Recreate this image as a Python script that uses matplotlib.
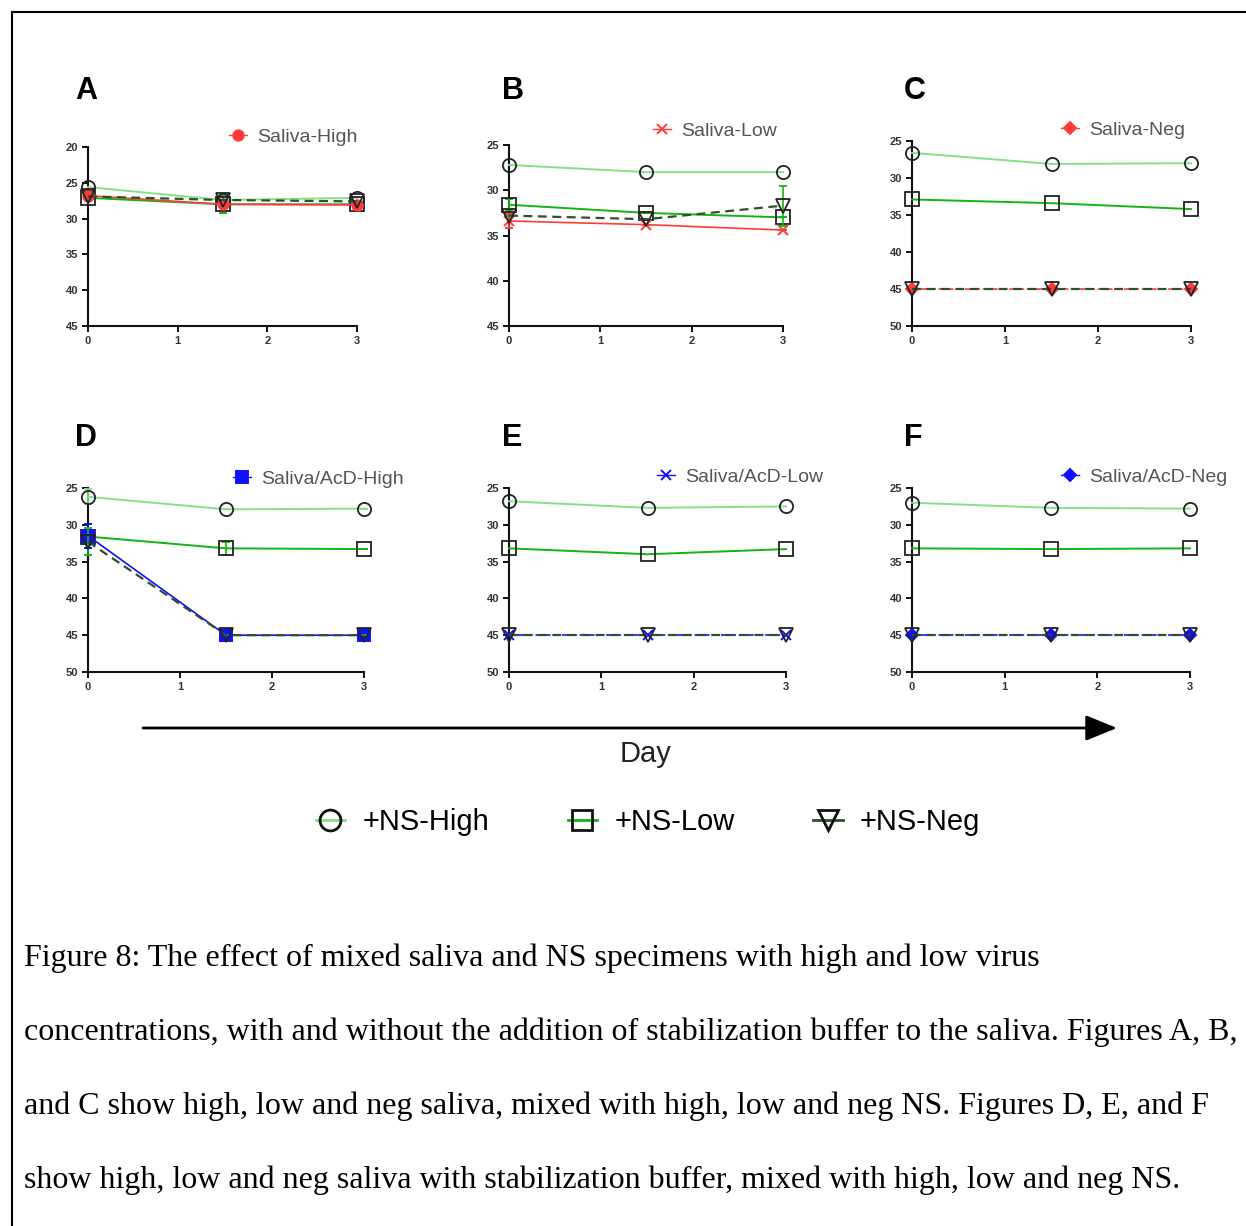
import matplotlib

matplotlib.use("Agg")
import matplotlib.pyplot as plt
from matplotlib.lines import Line2D
from matplotlib.patches import FancyArrowPatch

# x positions (days) shared by all panels
days = [0, 1.5, 3]

# panel A: saliva high
a_ns_high = [25.6, 27.4, 27.1]
a_ns_low = [27.1, 28.0, 28.0]
a_ns_low_err = [0, 1.2, 0]
a_ns_neg = [26.9, 27.4, 27.6]
a_saliva = [26.8, 28.0, 28.1]

# panel B: saliva low
b_ns_high = [27.2, 28.0, 28.0]
b_ns_low = [31.6, 32.5, 33.0]
b_ns_low_err = [0.6, 0, 0]
b_ns_neg = [32.8, 33.2, 31.7]
b_ns_neg_err = [0, 0, 2.2]
b_saliva = [33.4, 33.8, 34.4]
b_saliva_err = [0.8, 0, 0]

# panel C: saliva neg
c_ns_high = [26.6, 28.1, 28.0]
c_ns_low = [32.9, 33.4, 34.2]
c_ns_neg = [45, 45, 45]
c_saliva = [45, 45, 45]

# panel D: saliva/AcD high
d_ns_high = [26.2, 27.9, 27.8]
d_ns_high_err = [1.0, 0, 0]
d_ns_low = [31.6, 33.2, 33.3]
d_ns_low_err = [0, 0.9, 0]
d_ns_neg = [32.3, 45, 45]
d_ns_neg_err = [1.8, 0, 0]
d_saliva = [31.5, 45, 45]
d_saliva_err = [1.6, 0, 0]

# panel E: saliva/AcD low
e_ns_high = [26.8, 27.7, 27.5]
e_ns_low = [33.2, 34.0, 33.3]
e_ns_neg = [45, 45, 45]
e_saliva = [45, 45, 45]

# panel F: saliva/AcD neg
f_ns_high = [27.0, 27.7, 27.8]
f_ns_low = [33.2, 33.3, 33.2]
f_ns_neg = [45, 45, 45]
f_saliva = [45, 45, 45]

x_ticks = [0, 1, 2, 3]

caption_lines = [
    "Figure 8: The effect of mixed saliva and NS specimens with high and low virus",
    "concentrations, with and without the addition of stabilization buffer to the saliva. Figures A, B,",
    "and C show high, low and neg saliva, mixed with high, low and neg NS. Figures D, E, and F",
    "show high, low and neg saliva with stabilization buffer, mixed with high, low and neg NS.",
]

W, H = 1246, 1226
HIGH_C = "#86e086"
LOW_C = "#14b414"
NEG_C = "#2f4f2f"
RED = "#ff3b3b"
BLUE = "#1010ff"
SANS = ["Liberation Sans", "DejaVu Sans"]
NARROW = ["Liberation Sans Narrow", "Liberation Sans", "DejaVu Sans"]


def fx(px):
    return px / W


def fy(py):
    return 1 - py / H


def draw_panel(fig, box, letter, letter_xy, ylim, yticks, series, saliva, leg_xy):
    left, top, right, bottom = box
    ax = fig.add_axes([fx(left), fy(bottom), fx(right - left), fy(top) - fy(bottom)])
    ns_high, ns_low, ns_neg = series[:3]
    errs = series[3]

    common = dict(markersize=9.5, markerfacecolor="none", markeredgecolor="#222222",
                  markeredgewidth=1.3, clip_on=False, capsize=3, elinewidth=1.2)
    ax.errorbar(days, ns_high, yerr=errs.get("high"), color=HIGH_C, lw=1.4, marker="o",
                ecolor=HIGH_C, zorder=3, **common)
    ax.errorbar(days, ns_low, yerr=errs.get("low"), color=LOW_C, lw=1.4, marker="s",
                ecolor=LOW_C, zorder=3, **common)

    s_label, s_vals, s_color, s_marker, s_ms, s_err = saliva
    ax.errorbar(days, s_vals, yerr=s_err, color=s_color, lw=1.2, marker=s_marker,
                markersize=s_ms, markerfacecolor=s_color, markeredgecolor=s_color,
                markeredgewidth=1.4, ecolor=s_color, capsize=3, clip_on=False,
                linestyle="--" if ns_neg == s_vals and ns_neg[0] == 45 else "-", zorder=4)
    ax.errorbar(days, ns_neg, yerr=errs.get("neg"), color=NEG_C, lw=1.6, ls=(0, (4, 2.5)),
                marker="v", ecolor=LOW_C, zorder=5, **common)

    ax.set_xlim(0, 3)
    ax.set_ylim(*ylim)
    ax.set_xticks(x_ticks)
    ax.set_yticks(yticks)
    for side in ("top", "right"):
        ax.spines[side].set_visible(False)
    for side in ("left", "bottom"):
        ax.spines[side].set_linewidth(1.5)
        ax.spines[side].set_color("#111111")
    ax.tick_params(length=4, width=1.4, labelsize=8, labelcolor="#333333", pad=3,
                   color="#111111")
    for lab in ax.get_xticklabels() + ax.get_yticklabels():
        lab.set_family(SANS)
        lab.set_fontweight("bold")

    fig.text(fx(letter_xy[0]), fy(letter_xy[1]), letter, fontsize=22, fontweight="bold",
             family=SANS, va="center", ha="left")

    handle = Line2D([], [], color=s_color, lw=1.0, marker=s_marker, markersize=s_ms,
                    markerfacecolor=s_color, markeredgecolor=s_color, markeredgewidth=1.4)
    leg = fig.legend(handles=[handle], labels=[s_label], loc="center left",
                     bbox_to_anchor=(fx(leg_xy[0] - 9), fy(leg_xy[1])), frameon=False,
                     handlelength=0.9, handletextpad=0.55, borderpad=0, borderaxespad=0,
                     prop={"family": SANS, "size": 14})
    for t in leg.get_texts():
        t.set_color("#555555")
    return ax


fig = plt.figure(figsize=(W / 100, H / 100), dpi=100)

y_a = [20, 25, 30, 35, 40, 45]
y_b = [25, 30, 35, 40, 45]
y_c = [25, 30, 35, 40, 45, 50]

draw_panel(fig, (88, 147, 357, 326), "A", (75, 91), (45, 20), y_a,
           (a_ns_high, a_ns_low, a_ns_neg, {"low": a_ns_low_err}),
           ("Saliva-High", a_saliva, RED, "o", 7.5, None), (238, 137))
draw_panel(fig, (509, 145, 783, 326), "B", (502, 91), (45, 25), y_b,
           (b_ns_high, b_ns_low, b_ns_neg, {"low": b_ns_low_err, "neg": b_ns_neg_err}),
           ("Saliva-Low", b_saliva, RED, "x", 7, b_saliva_err), (662, 131))
draw_panel(fig, (912, 141, 1191, 326), "C", (904, 91), (50, 25), y_c,
           (c_ns_high, c_ns_low, c_ns_neg, {}),
           ("Saliva-Neg", c_saliva, RED, "D", 6, None), (1070, 130))
draw_panel(fig, (88, 488, 364, 672), "D", (75, 438), (50, 25), y_c,
           (d_ns_high, d_ns_low, d_ns_neg,
            {"high": d_ns_high_err, "low": d_ns_low_err, "neg": d_ns_neg_err}),
           ("Saliva/AcD-High", d_saliva, BLUE, "s", 8, d_saliva_err), (242, 479))
draw_panel(fig, (509, 488, 786, 672), "E", (502, 438), (50, 25), y_c,
           (e_ns_high, e_ns_low, e_ns_neg, {}),
           ("Saliva/AcD-Low", e_saliva, BLUE, "x", 7, None), (666, 477))
draw_panel(fig, (912, 488, 1190, 672), "F", (904, 438), (50, 25), y_c,
           (f_ns_high, f_ns_low, f_ns_neg, {}),
           ("Saliva/AcD-Neg", f_saliva, BLUE, "D", 6, None), (1070, 477))

# time arrow and label
arrow = FancyArrowPatch((fx(143), fy(728)), (fx(1117), fy(728)), transform=fig.transFigure,
                        arrowstyle="-|>,head_length=1.6,head_width=0.65", mutation_scale=12,
                        shrinkA=0, shrinkB=0, lw=2, color="black")
fig.add_artist(arrow)
fig.text(fx(646), fy(754), "Day", fontsize=21, family=NARROW, ha="center", va="center",
         color="#222222")

# shared NS legend
ns_handles = [
    Line2D([], [], color=HIGH_C, lw=2, marker="o", markersize=15, markerfacecolor="none",
           markeredgecolor="#111111", markeredgewidth=2),
    Line2D([], [], color=LOW_C, lw=2, marker="s", markersize=15, markerfacecolor="none",
           markeredgecolor="#111111", markeredgewidth=2),
    Line2D([], [], color=NEG_C, lw=2, marker="v", markersize=15, markerfacecolor="none",
           markeredgecolor="#111111", markeredgewidth=2),
]
fig.legend(handles=ns_handles, labels=["+NS-High", "+NS-Low", "+NS-Neg"], loc="center",
           bbox_to_anchor=(fx(648), fy(822)), ncol=3, frameon=False, handlelength=1.0,
           handletextpad=0.6, columnspacing=2.7, prop={"family": NARROW, "size": 21})

# caption
for i, line in enumerate(caption_lines):
    fig.text(fx(24), fy(958 + 74 * i), line, fontsize=23, family=["Liberation Serif"],
             ha="left", va="center")

# page frame
fig.add_artist(Line2D([fx(12), fx(12)], [fy(12), 0], transform=fig.transFigure, color="black", lw=1.5))
fig.add_artist(Line2D([fx(12), 1], [fy(12), fy(12)], transform=fig.transFigure, color="black", lw=1.5))

fig.savefig("out.png", dpi=100)
